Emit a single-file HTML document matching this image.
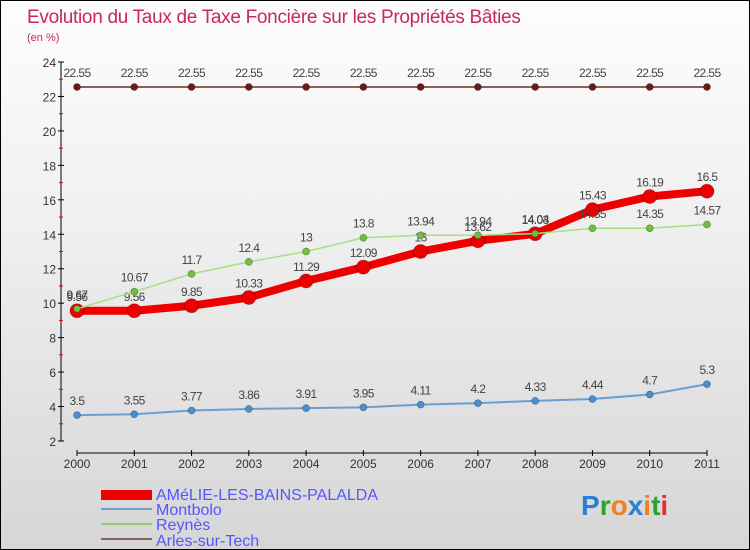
<!DOCTYPE html>
<html><head><meta charset="utf-8"><style>
body{margin:0}
#c{width:750px;height:550px;position:relative;box-sizing:border-box;border:1px solid #000;background:linear-gradient(#fdfdfd,#f0f0f0 40%,#d6d6d6);font-family:"Liberation Sans",sans-serif;overflow:hidden}
</style></head><body>
<div id="c">
<svg id="s" width="748" height="548" style="position:absolute;left:0;top:0">
<text x="26" y="22" font-size="19" fill="#c8285a" letter-spacing="-0.3">Evolution du Taux de Taxe Foncière sur les Propriétés Bâties</text>
<text x="26" y="40" font-size="11" fill="#c8285a">(en %)</text>
<g id="axes"></g><g id="series"></g>
<g>
<rect x="100" y="489" width="51" height="10" fill="#ee0000"/>
<text x="155" y="499" font-size="16" fill="#5555ff">AMéLIE-LES-BAINS-PALALDA</text>
<rect x="100" y="507" width="51" height="2" fill="#6a9fd0"/>
<text x="155" y="514" font-size="16" fill="#5555ff">Montbolo</text>
<rect x="100" y="522" width="51" height="2" fill="#90d070"/>
<text x="155" y="529" font-size="16" fill="#5555ff">Reynès</text>
<rect x="100" y="537" width="51" height="2" fill="#8a6060"/>
<text x="155" y="545" font-size="16" fill="#5555ff">Arles-sur-Tech</text>
</g>
<text x="580" y="514" font-size="28" font-weight="bold"><tspan fill="#2a7fd0">P</tspan><tspan fill="#30a030">r</tspan><tspan fill="#f08020">o</tspan><tspan fill="#2a7fd0">x</tspan><tspan fill="#f08020">i</tspan><tspan fill="#30a030">t</tspan><tspan fill="#e03030">i</tspan></text>
</svg>
</div>
<script>
const years=[2000,2001,2002,2003,2004,2005,2006,2007,2008,2009,2010,2011];
const yTicks=[2,4,6,8,10,12,14,16,18,20,22,24];
const arles=[22.55,22.55,22.55,22.55,22.55,22.55,22.55,22.55,22.55,22.55,22.55,22.55];
const reynes=[9.67,10.67,11.7,12.4,13,13.8,13.94,13.94,14.04,14.35,14.35,14.57];
const montbolo=[3.5,3.55,3.77,3.86,3.91,3.95,4.11,4.2,4.33,4.44,4.7,5.3];
const amelie=[9.56,9.56,9.85,10.33,11.29,12.09,13,13.62,14.03,15.43,16.19,16.5];
const NS='http://www.w3.org/2000/svg';
const X=i=>76+i*(630/11);
const Y=v=>440-(v-2)*(379/22);
function mk(t,a,p){const e=document.createElementNS(NS,t);for(const k in a)e.setAttribute(k,a[k]);p.appendChild(e);return e;}
const ax=document.getElementById('axes');
let l=mk('line',{x1:60,y1:Y(24),x2:60,y2:Y(2),stroke:'#000','stroke-width':1},ax);


yTicks.forEach(v=>{
 const t=mk('line',{x1:57,x2:63,y1:Y(v),y2:Y(v),stroke:'#000'},ax);
 
 
 if(v<24){const m=mk('line',{x1:58,x2:62,y1:Y(v+1),y2:Y(v+1),stroke:'#e00000'},ax);
 
 }
 const tx=mk('text',{x:55,y:Y(v)+5,'font-size':12,fill:'#333','text-anchor':'end'},ax);tx.textContent=v;
 
 
});
l=mk('line',{x1:X(0),y1:452,x2:X(11),y2:452,stroke:'#000'},ax);


years.forEach((y,i)=>{
 const t=mk('line',{x1:X(i),x2:X(i),y1:449,y2:455,stroke:'#000'},ax);
 
 
 const tx=mk('text',{x:X(i),y:467,'font-size':12,fill:'#333','text-anchor':'middle'},ax);tx.textContent=y;
 
 
});
const sg=document.getElementById('series');
function series(d,name,col,w,r,fill){
 const g=mk('g',{},sg);
 
 
 const p=mk('polyline',{points:d.map((v,i)=>X(i)+','+Y(v)).join(' '),fill:'none',stroke:col,'stroke-width':w,'stroke-linejoin':'round'},g);
 
 
 d.forEach((v,i)=>{
  const c=mk('circle',{cx:X(i),cy:Y(v),r:r,fill:fill,stroke:'rgba(0,0,0,0.3)','stroke-width':0.8},g);
  
  
  const t=mk('text',{x:X(i),y:Y(v)-10,'font-size':12,fill:'#444','text-anchor':'middle','letter-spacing':'-0.6'},g);t.textContent=v;
  
  
 });
}
series(arles,'arles','#6a2a2a',1.5,3.5,'#6a1a1a');
series(montbolo,'montbolo','#6a9fd0',2,3.5,'#4a90d0');
series(amelie,'amelie','#ee0000',8,7,'#ee0000');
series(reynes,'reynes','#a8e080',1.5,3.5,'#70c040');
</script>
</body></html>
